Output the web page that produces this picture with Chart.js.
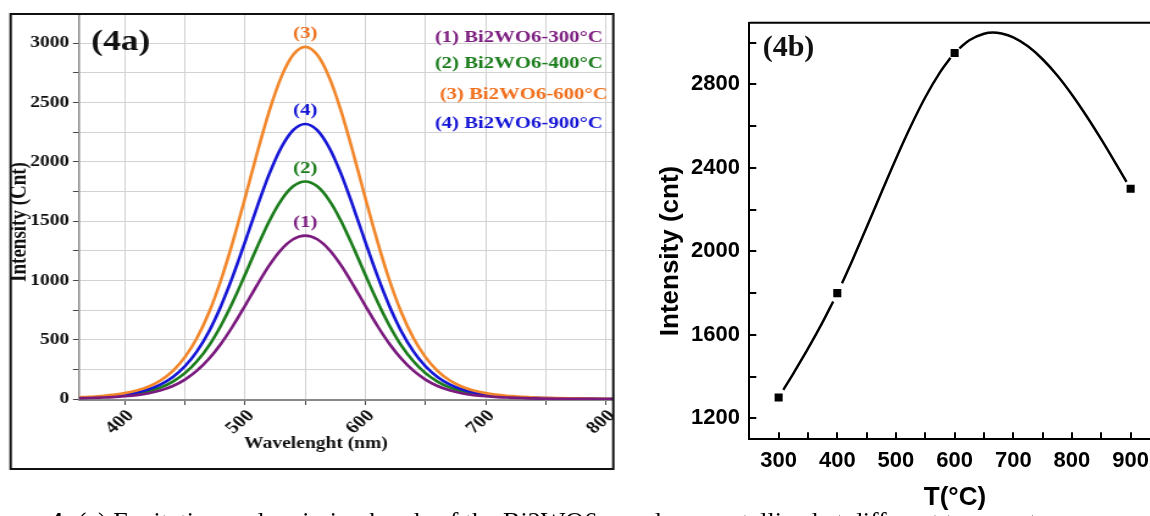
<!DOCTYPE html>
<html>
<head>
<meta charset="utf-8">
<title>Figure 4</title>
<script src="https://cdn.jsdelivr.net/npm/chart.js@4.4.1/dist/chart.umd.min.js"></script>
<style>
  html, body { margin: 0; padding: 0; background: #fff; }
  body { width: 1150px; height: 516px; overflow: hidden; position: relative; }
  #wrapA { position: absolute; left: 0; top: 0; width: 508px; height: 480px; transform: scaleX(1.22); transform-origin: 0 0; }
  #wrapB { position: absolute; left: 640px; top: 0; width: 510px; height: 516px; }
  #caption { position: absolute; left: -30px; top: 509px; font: 26px 'Liberation Serif', 'Times New Roman', serif; line-height: 26px; white-space: nowrap; color: #000; }
</style>
</head>
<body>
<div id="wrapA"><canvas id="chartA" width="508" height="480"></canvas></div>
<div id="wrapB"><canvas id="chartB" width="510" height="516"></canvas></div>
<div id="caption"><b>Figure 4:</b> (a) Excitation and emission bands of the Bi2WO6 powders crystallized at different temperatures</div>
<script>
// (4a) emission spectra
const wavelength = [362, 370, 380, 390, 400, 410, 420, 430, 440, 450, 460, 470, 480, 490, 500, 510, 520, 530, 540, 550,
  560, 570, 580, 590, 600, 610, 620, 630, 640, 650, 660, 670, 680, 690, 700, 710, 720, 730, 740, 806];
const int300 = [7, 9, 12, 16, 23, 33, 49, 74, 110, 164, 239, 339, 466, 618, 787, 961, 1125, 1259, 1347, 1378,
  1347, 1259, 1125, 961, 787, 618, 466, 339, 239, 164, 110, 74, 49, 33, 23, 16, 12, 9, 6, 0];
const int400 = [9, 11, 16, 22, 31, 45, 66, 98, 147, 218, 318, 451, 621, 823, 1048, 1280, 1498, 1676, 1794, 1835,
  1794, 1676, 1498, 1280, 1048, 823, 621, 451, 318, 218, 147, 98, 66, 45, 31, 22, 16, 11, 8, 0];
const int600 = [15, 18, 26, 35, 50, 72, 106, 159, 238, 353, 514, 730, 1004, 1332, 1696, 2072, 2424, 2713, 2903, 2970,
  2903, 2713, 2424, 2072, 1696, 1332, 1004, 730, 514, 353, 238, 159, 106, 72, 50, 35, 26, 18, 13, 0];
const int900 = [11, 14, 20, 28, 39, 56, 83, 124, 186, 276, 402, 570, 785, 1040, 1325, 1619, 1894, 2119, 2268, 2320,
  2268, 2119, 1894, 1619, 1325, 1040, 785, 570, 402, 276, 186, 124, 83, 56, 39, 28, 20, 14, 10, 0];
const specNames = ['(1) Bi2WO6-300°C', '(2) Bi2WO6-400°C', '(3) Bi2WO6-600°C', '(4) Bi2WO6-900°C'];
const peakTags = ['(1)', '(2)', '(3)', '(4)'];
const xTicksA = [400, 450, 500, 550, 600, 650, 700, 750, 800];
const yTicksA = [0, 250, 500, 750, 1000, 1250, 1500, 1750, 2000, 2250, 2500, 2750, 3000];

// (4b) peak intensity vs temperature
const temps = [300, 400, 600, 900];
const peakInt = [1300, 1800, 2950, 2300];
const fitT = [308, 325, 350, 375, 393, 400, 408, 425, 450, 475, 500, 525, 550, 575, 593, 600, 608, 625, 650, 665, 680, 700, 725, 750, 775, 800, 825, 850, 875, 893];
const fitI = [1337, 1415, 1534, 1661, 1760, null, 1847, 1953, 2115, 2281, 2444, 2598, 2738, 2857, 2927, null, 2972, 3011, 3042, 3048, 3043, 3025, 2982, 2920, 2842, 2750, 2647, 2536, 2419, 2333];
const xTicksB = [300, 350, 400, 450, 500, 550, 600, 650, 700, 750, 800, 850, 900];
const yTicksB = [1200, 1400, 1600, 1800, 2000, 2200, 2400, 2600, 2800, 3000];

const serif = "'Liberation Serif', 'Times New Roman', serif";
const sans = "'Liberation Sans', Arial, sans-serif";
const lineColors = ['#7a1a7e', '#1b7d1b', '#f2862a', '#1515d6'];
const textColors = ['#7d1f80', '#1b7d1b', '#f0701e', '#1515d6'];
const seriesA = [int300, int400, int600, int900];

const pts = (xs, ys) => xs.map((x, i) => ({ x: x, y: ys[i] }));
const noPad = s => { s.paddingLeft = 0; s.paddingRight = 0; s.paddingTop = 0; s.paddingBottom = 0; };

function vText(ctx, text, x, y) {
  ctx.save();
  ctx.translate(x, y);
  ctx.rotate(-Math.PI / 2);
  ctx.fillText(text, 0, 0);
  ctx.restore();
}

const decorA = {
  id: 'decorA',
  afterDraw(c) {
    const ctx = c.ctx, xs = c.scales.x, ys = c.scales.y;
    ctx.save();
    ctx.strokeStyle = '#111';
    ctx.lineWidth = 2;
    ctx.strokeRect(8.7, 14, 494, 455);

    ctx.textBaseline = 'middle';
    ctx.textAlign = 'center';
    ctx.fillStyle = '#111';
    ctx.font = 'bold 16px ' + serif;
    ctx.fillText('Wavelenght (nm)', 259, 444);
    ctx.font = 'bold 19px ' + serif;
    vText(ctx, 'Intensity (Cnt)', 16.4, 222);

    ctx.font = 'bold 29px ' + serif;
    ctx.fillText('(4a)', 99, 43);
    ctx.font = 'bold 17px ' + serif;
    seriesA.forEach((s, i) => {
      const top = Math.max(...s);
      const at = wavelength[s.indexOf(top)];
      ctx.fillStyle = textColors[i];
      ctx.fillText(peakTags[i], xs.getPixelForValue(at), ys.getPixelForValue(top) - 13);
    });
    ctx.textAlign = 'right';
    const legendY = [38, 64, 95, 124];
    const legendX = [494, 494, 498, 494];
    specNames.forEach((t, i) => {
      ctx.fillStyle = textColors[i];
      ctx.fillText(t, legendX[i], legendY[i]);
    });
    ctx.restore();
  }
};

new Chart(document.getElementById('chartA'), {
  type: 'line',
  data: {
    datasets: [0, 2, 3, 1].map(i => ({
      label: specNames[i],
      data: pts(wavelength, seriesA[i]),
      borderColor: lineColors[i],
      borderWidth: 2.6,
      pointRadius: 0,
      cubicInterpolationMode: 'monotone'
    }))
  },
  options: {
    responsive: false,
    animation: false,
    devicePixelRatio: 1,
    layout: { autoPadding: false, padding: { left: 0, top: 14, right: 5.5, bottom: 10 } },
    plugins: { legend: { display: false }, tooltip: { enabled: false } },
    scales: {
      x: {
        type: 'linear', min: 362, max: 806,
        afterBuildTicks: s => { s.ticks = xTicksA.map(v => ({ value: v })); },
        afterFit: s => { s.height = 70; noPad(s); },
        grid: { color: '#d2d2d2', tickColor: '#444', tickLength: 5 },
        border: { color: '#8a8a8a', width: 2 },
        ticks: { autoSkip: false, minRotation: 45, maxRotation: 45, padding: 1, labelOffset: 5, color: '#111',
          font: { family: serif, size: 17, weight: 'bold' },
          callback: v => v % 100 === 0 ? String(v) : '' }
      },
      y: {
        min: -8, max: 3247,
        afterBuildTicks: s => { s.ticks = yTicksA.map(v => ({ value: v })); },
        afterFit: s => { s.width = 64.8; noPad(s); },
        grid: { color: '#d2d2d2', tickColor: '#444', tickLength: 5 },
        border: { color: '#8a8a8a', width: 1.5 },
        ticks: { padding: 3, color: '#111', font: { family: serif, size: 16, weight: 'bold' },
          callback: v => v % 500 === 0 ? String(v) : '' }
      }
    }
  },
  plugins: [decorA]
});

const decorB = {
  id: 'decorB',
  afterDraw(c) {
    const ctx = c.ctx, a = c.chartArea;
    ctx.save();
    ctx.strokeStyle = '#000';
    ctx.lineWidth = 2;
    ctx.beginPath();
    ctx.moveTo(a.left, a.top);
    ctx.lineTo(a.right, a.top);
    ctx.stroke();
    ctx.fillStyle = '#000';
    ctx.textAlign = 'center';
    ctx.textBaseline = 'middle';
    ctx.font = 'bold 26px ' + sans;
    ctx.fillText('T(°C)', 315, 498);
    vText(ctx, 'Intensity (cnt)', 31, 251);
    ctx.fillStyle = '#111';
    ctx.font = 'bold 30px ' + serif;
    ctx.fillText('(4b)', 148.5, 48);
    ctx.restore();
  }
};

new Chart(document.getElementById('chartB'), {
  type: 'line',
  data: {
    datasets: [
      { label: 'Intensity', data: pts(temps, peakInt), showLine: false, pointStyle: 'rect',
        pointRadius: 5.7, pointBackgroundColor: '#000', pointBorderWidth: 0 },
      { label: 'fit', data: pts(fitT, fitI), borderColor: '#000', borderWidth: 2.5, pointRadius: 0,
        cubicInterpolationMode: 'monotone', spanGaps: false }
    ]
  },
  options: {
    responsive: false,
    animation: false,
    devicePixelRatio: 1,
    layout: { autoPadding: false, padding: { left: 0, top: 22.7, right: 0, bottom: 0 } },
    plugins: { legend: { display: false }, tooltip: { enabled: false } },
    scales: {
      x: {
        type: 'linear', min: 250, max: 933,
        afterBuildTicks: s => { s.ticks = xTicksB.map(v => ({ value: v })); },
        afterFit: s => { s.height = 76.7; noPad(s); },
        grid: { drawOnChartArea: false, tickLength: -7, color: '#000', lineWidth: 2 },
        border: { color: '#000', width: 2 },
        ticks: { autoSkip: false, maxRotation: 0, padding: 15, color: '#000',
          font: { family: sans, size: 22, weight: 'bold' },
          callback: v => v % 100 === 0 ? String(v) : '' }
      },
      y: {
        min: 1100, max: 3095,
        afterBuildTicks: s => { s.ticks = yTicksB.map(v => ({ value: v })); },
        afterFit: s => { s.width = 109.3; noPad(s); },
        grid: { drawOnChartArea: false, tickLength: -7, color: '#000', lineWidth: 2 },
        border: { color: '#000', width: 2 },
        ticks: { padding: 16.3, color: '#000', font: { family: sans, size: 22, weight: 'bold' },
          callback: v => v % 400 === 0 ? String(v) : '' }
      }
    }
  },
  plugins: [decorB]
});
</script>
</body>
</html>
